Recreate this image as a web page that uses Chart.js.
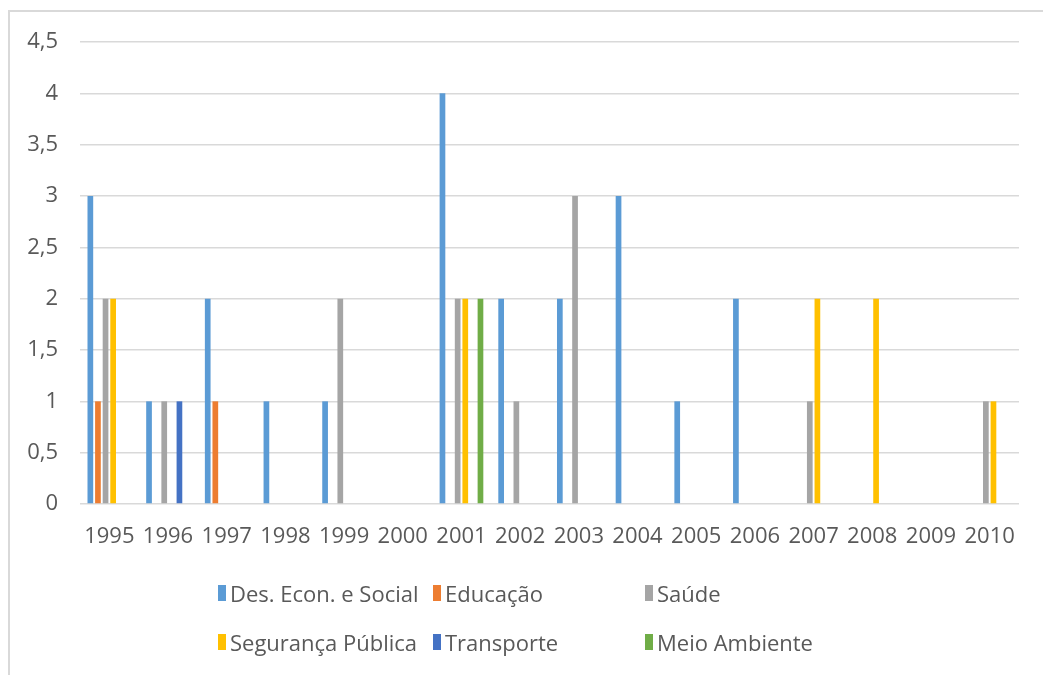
<!DOCTYPE html>
<html lang="pt">
<head>
<meta charset="utf-8">
<title>Projetos por área e ano</title>
<script src="https://cdn.jsdelivr.net/npm/chart.js@4/dist/chart.umd.min.js"></script>
<style>
  html, body { margin: 0; padding: 0; background: #ffffff; }
  #wrap { position: relative; width: 1043px; height: 675px; overflow: hidden; }
  #frame {
    position: absolute; left: 8px; top: 10px; right: -4px; bottom: -4px;
    border-left: 2px solid #d9d9d9; border-top: 2px solid #d9d9d9;
    pointer-events: none;
  }
  #chart { position: absolute; left: 0; top: 0; }
  .lg-item {
    position: absolute; display: flex; align-items: center;
    font-family: "Open Sans", sans-serif; font-size: 22px; color: #595959;
    white-space: nowrap; transform: translateY(-50%);
  }
  .lg-box { width: 8px; height: 16px; margin-right: 4px; flex: none; }
</style>
</head>
<body>
<div id="wrap">
  <canvas id="chart" width="1043" height="675"></canvas>
  <div id="frame"></div>
  <div id="legend"></div>
</div>
<script>
// Anos (categorias do eixo X)
const anos = ['1995','1996','1997','1998','1999','2000','2001','2002','2003','2004','2005','2006','2007','2008','2009','2010'];

// Quantidade por área em cada ano
const desEconSocial   = [3, 1, 2, 1, 1, 0, 4, 2, 2, 3, 1, 2, 0, 0, 0, 0];
const educacao        = [1, 0, 1, 0, 0, 0, 0, 0, 0, 0, 0, 0, 0, 0, 0, 0];
const saude           = [2, 1, 0, 0, 2, 0, 2, 1, 3, 0, 0, 0, 1, 0, 0, 1];
const segurancaPublica= [2, 0, 0, 0, 0, 0, 2, 0, 0, 0, 0, 0, 2, 2, 0, 1];
const transporte      = [0, 1, 0, 0, 0, 0, 0, 0, 0, 0, 0, 0, 0, 0, 0, 0];
const meioAmbiente    = [0, 0, 0, 0, 0, 0, 2, 0, 0, 0, 0, 0, 0, 0, 0, 0];

// Marcas do eixo Y
const yTicks = [0, 0.5, 1, 1.5, 2, 2.5, 3, 3.5, 4, 4.5];

const series = [
  { label: 'Des. Econ. e Social', data: desEconSocial,    color: '#5b9bd5' },
  { label: 'Educação',            data: educacao,         color: '#ed7d31' },
  { label: 'Saúde',               data: saude,            color: '#a5a5a5' },
  { label: 'Segurança Pública',   data: segurancaPublica, color: '#ffc000' },
  { label: 'Transporte',          data: transporte,       color: '#4472c4' },
  { label: 'Meio Ambiente',       data: meioAmbiente,     color: '#70ad47' }
];

const textColor = '#595959';
const gridColor = '#d9d9d9';
const font = { family: '"Open Sans", sans-serif', size: 22 };

const chart = new Chart(document.getElementById('chart'), {
  type: 'bar',
  data: {
    labels: anos,
    datasets: series.map(s => ({
      label: s.label,
      data: s.data,
      backgroundColor: s.color,
      borderWidth: 0,
      categoryPercentage: 0.777,
      barPercentage: 0.75
    }))
  },
  options: {
    responsive: false,
    animation: false,
    devicePixelRatio: 1,
    layout: { padding: { left: 8, right: 24, top: 42, bottom: 111 } },
    plugins: {
      legend: { display: false },
      tooltip: { enabled: false }
    },
    scales: {
      x: {
        grid: { display: false, drawTicks: false },
        border: { display: false },
        ticks: { color: textColor, font: font, padding: 20, maxRotation: 0, autoSkip: false },
        afterFit: s => { s.height = 60; }
      },
      y: {
        min: 0,
        max: 4.5,
        afterBuildTicks: s => { s.ticks = yTicks.map(v => ({ value: v })); },
        grid: { color: gridColor, lineWidth: 1.5, drawTicks: false },
        border: { display: false },
        ticks: {
          color: textColor,
          font: font,
          padding: 22,
          callback: v => String(v).replace('.', ',')
        },
        afterFit: s => { s.width = 72; }
      }
    }
  }
});

// Legenda em duas linhas e três colunas
const legendCols = [218, 433, 645];
const legendRows = [593, 642];
const legendEl = document.getElementById('legend');
chart.data.datasets.forEach((ds, i) => {
  const item = document.createElement('div');
  item.className = 'lg-item';
  item.style.left = legendCols[i % 3] + 'px';
  item.style.top = legendRows[Math.floor(i / 3)] + 'px';
  const box = document.createElement('span');
  box.className = 'lg-box';
  box.style.background = ds.backgroundColor;
  const txt = document.createElement('span');
  txt.textContent = ds.label;
  item.appendChild(box);
  item.appendChild(txt);
  legendEl.appendChild(item);
});
</script>
</body>
</html>
